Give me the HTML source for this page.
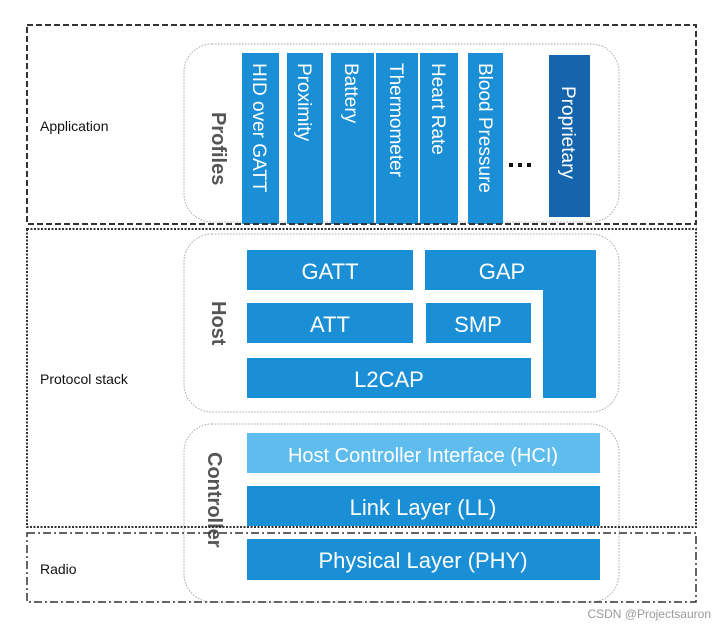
<!DOCTYPE html>
<html><head><meta charset="utf-8"><style>
html,body{margin:0;padding:0;background:#fff;width:726px;height:626px;overflow:hidden}
svg{display:block}
</style></head><body>
<svg width="726" height="626" xmlns="http://www.w3.org/2000/svg" font-family="'Liberation Sans', sans-serif">
<!-- rounded containers -->
<g fill="none" stroke="#a8a8a8" stroke-width="1" stroke-dasharray="1.5,1.5">
<rect x="184" y="44" width="435" height="178" rx="28"/>
<rect x="184" y="234" width="435" height="178" rx="28"/>
<rect x="184" y="424" width="435" height="178" rx="28"/>
</g>
<!-- profile bars -->
<g fill="#1a8fd6">
<rect x="242" y="53" width="37" height="171"/>
<rect x="287" y="53" width="36" height="171"/>
<rect x="331" y="53" width="43" height="171"/>
<rect x="376" y="53" width="42" height="171"/>
<rect x="420" y="53" width="38" height="171"/>
<rect x="468" y="53" width="35" height="171"/>
</g>
<rect x="549" y="55" width="41" height="162" fill="#1565ad"/>
<g fill="#fff" font-size="19">
<text transform="translate(253,63) rotate(90)">HID over GATT</text>
<text transform="translate(298,63) rotate(90)">Proximity</text>
<text transform="translate(345,63) rotate(90)">Battery</text>
<text transform="translate(390,63) rotate(90)">Thermometer</text>
<text transform="translate(432,63) rotate(90)">Heart Rate</text>
<text transform="translate(479,63) rotate(90)">Blood Pressure</text>
<text transform="translate(562,86) rotate(90)">Proprietary</text>
</g>
<g fill="#111"><rect x="509" y="163" width="4" height="4"/><rect x="518" y="163" width="4" height="4"/><rect x="527" y="163" width="4" height="4"/></g>
<!-- host -->
<g fill="#1a8fd6">
<rect x="247" y="250" width="166" height="40"/>
<path d="M425 250 H596 V398 H543 V290 H425 Z"/>
<rect x="247" y="303" width="166" height="40"/>
<rect x="426" y="303" width="105" height="40"/>
<rect x="247" y="358" width="284" height="40"/>
<rect x="247" y="486" width="353" height="40"/>
<rect x="247" y="539" width="353" height="41"/>
</g>
<rect x="247" y="433" width="353" height="40" fill="#5fbdee"/>
<g fill="#fff" font-size="22" text-anchor="middle">
<text x="330" y="279">GATT</text>
<text x="502" y="279">GAP</text>
<text x="330" y="332">ATT</text>
<text x="478" y="332">SMP</text>
<text x="389" y="387">L2CAP</text>
<text x="423" y="462" font-size="20">Host Controller Interface (HCI)</text>
<text x="423" y="515">Link Layer (LL)</text>
<text x="423" y="568">Physical Layer (PHY)</text>
</g>
<g fill="#555" font-size="20" font-weight="bold">
<text transform="translate(212,112) rotate(90)">Profiles</text>
<text transform="translate(212,301) rotate(90)">Host</text>
<text transform="translate(208,452) rotate(90)">Controller</text>
</g>
<!-- outer boxes -->
<rect x="27" y="25" width="669" height="199" fill="none" stroke="#333" stroke-width="2" stroke-dasharray="6,3"/>
<rect x="27" y="229" width="669" height="298" fill="none" stroke="#333" stroke-width="2" stroke-dasharray="2,1.5"/>
<rect x="27" y="533" width="669" height="69" fill="none" stroke="#333" stroke-width="1.5" stroke-dasharray="8,3,2,3"/>
<g fill="#111" font-size="14">
<text x="40" y="131">Application</text>
<text x="40" y="384">Protocol stack</text>
<text x="40" y="574">Radio</text>
</g>
<text x="711" y="618" text-anchor="end" font-size="12" fill="#999">CSDN @Projectsauron</text>
</svg>
</body></html>
